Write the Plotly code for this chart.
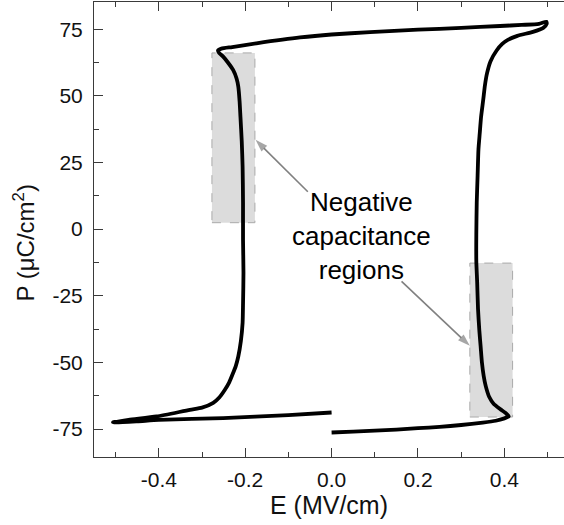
import plotly.graph_objects as go

# P-E hysteresis loop (E in MV/cm, P in uC/cm^2), traced in measurement order
E = [0.000, 0.050, 0.100, 0.150, 0.200, 0.250, 0.300, 0.350, 0.380, 0.400, 0.410,
     0.405, 0.390, 0.375, 0.365, 0.357, 0.352, 0.348, 0.345, 0.342, 0.339, 0.337,
     0.335, 0.335, 0.336, 0.338, 0.340, 0.343, 0.346, 0.351, 0.355, 0.360, 0.368,
     0.382, 0.395, 0.408, 0.430, 0.466, 0.490, 0.498, 0.497,
     0.480, 0.440, 0.390, 0.300, 0.200, 0.089, 0.000, -0.073, -0.174, -0.230,
     -0.255, -0.263, -0.260, -0.251, -0.240, -0.228, -0.220, -0.216, -0.213,
     -0.211, -0.208, -0.206, -0.205, -0.205, -0.204, -0.205, -0.206, -0.210,
     -0.216, -0.222, -0.228, -0.237, -0.247, -0.260, -0.274, -0.300, -0.328,
     -0.405, -0.470, -0.506,
     -0.450, -0.400, -0.251, -0.100, 0.000]
P = [-76.3, -76.0, -75.6, -75.2, -74.7, -74.2, -73.5, -72.6, -71.9, -71.0, -70.3,
     -69.3, -67.5, -65.5, -63.0, -59.0, -55.0, -50.0, -44.0, -38.0, -30.0, -20.0,
     -12.0, -2.0, 10.0, 20.0, 30.0, 36.0, 42.0, 48.5, 54.0, 58.6, 63.0,
     67.0, 69.5, 71.0, 72.5, 74.0, 75.5, 77.0, 77.8,
     77.0, 76.6, 76.2, 75.5, 74.8, 73.9, 73.0, 71.9, 69.7, 68.3,
     67.7, 67.0, 66.0, 64.7, 62.5, 59.7, 56.5, 53.5, 48.0,
     42.2, 33.0, 23.5, 10.0, -4.0, -16.5, -28.0, -35.2, -42.0,
     -47.8, -51.5, -54.0, -57.5, -60.3, -63.2, -65.2, -67.0, -67.8,
     -70.3, -71.6, -72.5,
     -72.1, -71.6, -70.9, -69.8, -68.8]

# Negative-capacitance regions: [E0, E1, P0, P1]
region_left = [-0.277, -0.1775, 2.4, 66.1]
region_right = [0.320, 0.419, -70.5, -12.75]

# Arrows: tail (E, P) -> head (E, P)
arrow_left_E = [-0.055, -0.176]
arrow_left_P = [14.0, 33.5]
arrow_right_E = [0.162, 0.320]
arrow_right_P = [-19.6, -43.8]

x_ticks = [-0.4, -0.2, 0.0, 0.2, 0.4]
x_ticktext = ["-0.4", "-0.2", "0.0", "0.2", "0.4"]
y_ticks = [-75, -50, -25, 0, 25, 50, 75]
y_ticktext = ["-75", "-50", "-25", "0", "25", "50", "75"]

FONT = "Liberation Sans, Arial, sans-serif"
AX = "#3a3a3a"
TXT = "#111111"

fig = go.Figure()

for ae, ap in ((arrow_left_E, arrow_left_P), (arrow_right_E, arrow_right_P)):
    fig.add_trace(go.Scatter(x=ae, y=ap, mode="lines+markers",
                             line=dict(color="#808080", width=1.6),
                             marker=dict(symbol="arrow", size=[0, 13], angleref="previous",
                                         color="#808080", line=dict(width=0)),
                             hoverinfo="skip", showlegend=False))

fig.add_trace(go.Scatter(x=E, y=P, mode="lines",
                         line=dict(color="black", width=3.8, shape="spline", smoothing=0.6),
                         hoverinfo="skip", showlegend=False))

for r in (region_left, region_right):
    fig.add_shape(type="rect", xref="x", yref="y", x0=r[0], x1=r[1], y0=r[2], y1=r[3],
                  fillcolor="#dcdcdc", line=dict(color="#aaaaaa", width=1, dash="dash"),
                  layer="below")

fig.add_annotation(x=(361.5 - 94) / 470, y=(457 - 236) / 455, xref="paper", yref="paper",
                   text="Negative<br>capacitance<br>regions", showarrow=False,
                   xanchor="center", yanchor="middle",
                   font=dict(family=FONT, size=26, color="black"), align="center")

fig.add_annotation(x=(23 - 94) / 470, y=(457 - 243.5) / 455, xref="paper", yref="paper",
                   text="P (μC/cm<sup>2</sup>)", showarrow=False, textangle=-90,
                   xanchor="center", yanchor="middle",
                   font=dict(family=FONT, size=24, color=TXT))

fig.update_layout(
    width=564, height=525,
    margin=dict(l=94, r=0, t=2, b=68),
    paper_bgcolor="white", plot_bgcolor="white",
    font=dict(family=FONT, color=TXT),
    xaxis=dict(range=[-0.55, 0.538], tickvals=x_ticks, ticktext=x_ticktext,
               ticks="inside", ticklen=9, tickwidth=1, tickcolor=AX,
               showline=True, linecolor=AX, linewidth=1, mirror="ticks",
               showgrid=False, zeroline=False, automargin=False,
               tickfont=dict(size=21, family=FONT, color=TXT),
               ticklabelstandoff=4,
               minor=dict(tickvals=[-0.5, -0.3, -0.1, 0.1, 0.3, 0.5], ticks="inside",
                          ticklen=5, tickcolor=AX, showgrid=False),
               title=dict(text="E (MV/cm)", font=dict(size=25, family=FONT, color=TXT),
                          standoff=5)),
    yaxis=dict(range=[-85.5, 85.2], tickvals=y_ticks, ticktext=y_ticktext,
               ticks="inside", ticklen=9, tickwidth=1, tickcolor=AX,
               showline=True, linecolor=AX, linewidth=1, mirror=False,
               showgrid=False, zeroline=False, automargin=False,
               tickfont=dict(size=21, family=FONT, color=TXT),
               ticklabelstandoff=6,
               minor=dict(tickvals=[-62.5, -37.5, -12.5, 12.5, 37.5, 62.5], ticks="inside",
                          ticklen=5, tickcolor=AX, showgrid=False)),
)

fig.write_html("out.html")
